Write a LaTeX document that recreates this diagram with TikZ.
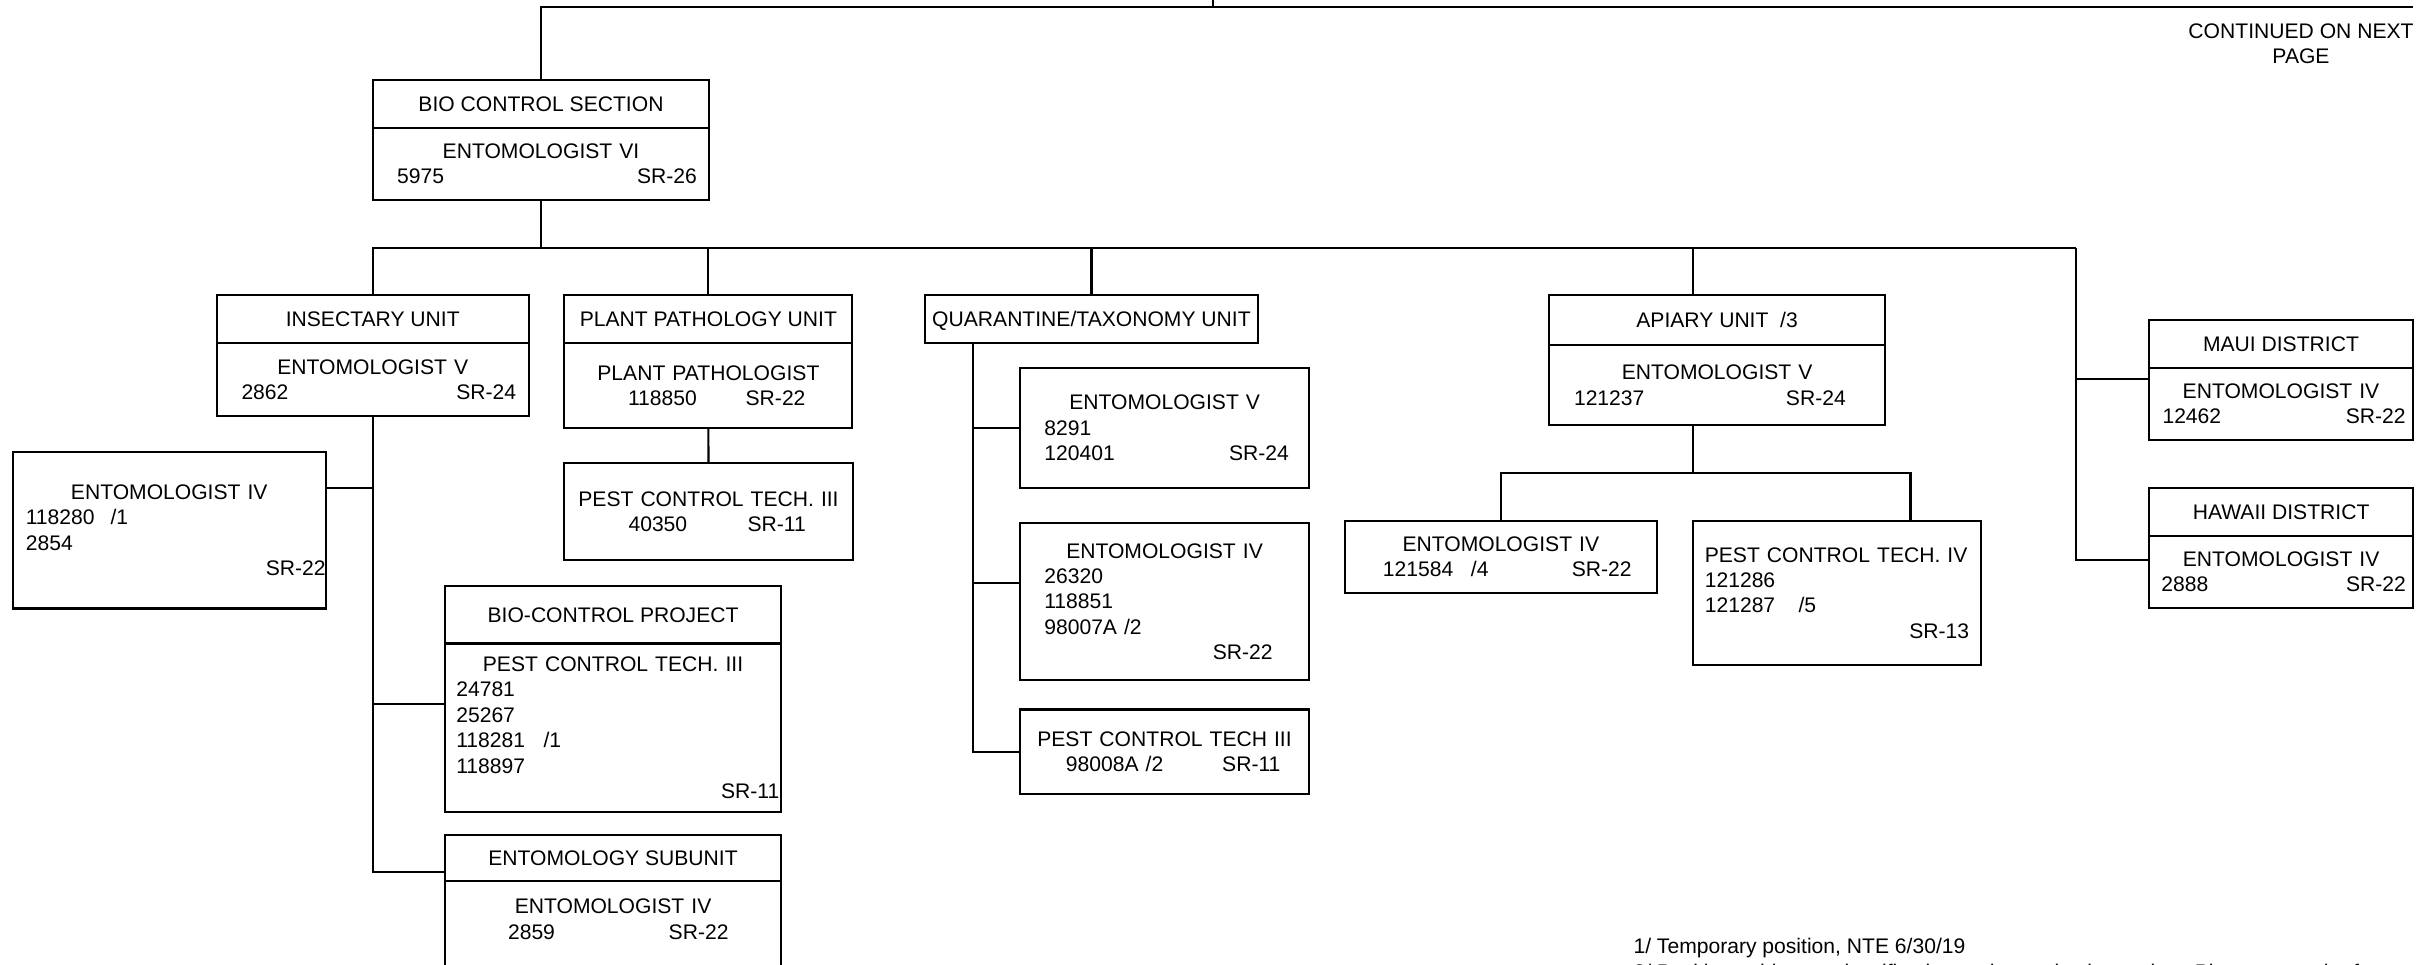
\documentclass[tikz,border=0pt]{standalone}
\usepackage{fontspec}
\setmainfont{Liberation Sans}
\newcommand{\ctr}[1]{\hfill#1\hfill\null}
\tikzset{
  hdr/.style={draw, line width=0.6pt, anchor=north west, inner sep=0pt, outer sep=0pt, align=center, text depth=0pt},
  bdy/.style={draw, line width=0.6pt, anchor=north west, inner sep=0pt, outer sep=0pt, align=left},
  wire/.style={line width=0.6pt},
}
\begin{document}
\begin{tikzpicture}[x=0.01cm, y=-0.01cm, font=\fontsize{6}{7.23}\selectfont]
            \path[use as bounding box, clip] (0,0) rectangle (2430,965);
            \coordinate (topIn) at (1213,0);
            \coordinate (topR) at (2413,7.3);
            \coordinate (busR) at (2076,248);
            \node[anchor=north, inner sep=0pt, align=center] (cont) at (2301,23) {CONTINUED ON NEXT\\PAGE};

            \node[hdr, minimum width=33.56mm, minimum height=4.77mm] (bioH) at (373.1,80) {BIO CONTROL SECTION};
            \node[bdy, minimum width=33.56mm, minimum height=7.23mm, text width=31.16mm] (bioB) at (bioH.south west) {\ctr{ENTOMOLOGIST VI}\\ \hspace*{1.2mm}5975\hfill SR-26};

            \node[hdr, minimum width=31.17mm, minimum height=4.8mm] (insH) at (216.8,295.3) {INSECTARY UNIT};
            \node[bdy, minimum width=31.17mm, minimum height=7.27mm, text width=28.67mm] (insB) at (insH.south west) {\ctr{ENTOMOLOGIST V}\\ \hspace*{1.22mm}2862\hfill SR-24};

            \node[hdr, minimum width=28.78mm, minimum height=4.8mm] (ppH) at (564.4,295.3) {PLANT PATHOLOGY UNIT};
            \node[bdy, minimum width=28.78mm, minimum height=8.44mm, text width=26.38mm] (ppB) at (ppH.south west) {\ctr{PLANT PATHOLOGIST}\\ \hspace*{5.16mm}118850\hspace{4.88mm}SR-22};
            \node[bdy, minimum width=28.88mm, minimum height=9.66mm, text width=26.48mm] (ppPct) at (564,463.4) {\ctr{PEST CONTROL TECH. III}\\ \hspace*{5.25mm}40350\hspace{6.03mm}SR-11};

            \node[hdr, minimum width=33.33mm, minimum height=4.8mm] (quarH) at (924.7,295.3) {QUARANTINE/TAXONOMY UNIT};
            \node[bdy, minimum width=28.83mm, minimum height=12.01mm, text width=24.83mm] (qEntV) at (1020.4,367.7) {\ctr{ENTOMOLOGIST V}\\ \hspace*{0.4mm}8291\\ \hspace*{0.4mm}120401\hfill SR-24};
            \node[bdy, minimum width=28.85mm, minimum height=15.68mm, text width=24.85mm] (qEntIV) at (1020.2,523.2) {\ctr{ENTOMOLOGIST IV}\\ \hspace*{0.41mm}26320\\ \hspace*{0.41mm}118851\\ \hspace*{0.41mm}98007A /2\\ \hfill SR-22\hspace*{1.62mm}\null};
            \node[bdy, minimum width=28.85mm, minimum height=8.48mm, text width=26.45mm] (qPct) at (1020.2,709.5) {\ctr{PEST CONTROL TECH III}\\ \hspace*{3.37mm}98008A /2\hfill SR-11\hspace*{1.64mm}\null};

            \node[hdr, minimum width=33.6mm, minimum height=4.97mm] (apH) at (1549,295.3) {APIARY UNIT\ \ /3};
            \node[bdy, minimum width=33.6mm, minimum height=8mm, text width=31.2mm] (apB) at (apH.south west) {\ctr{ENTOMOLOGIST V}\\ \hspace*{1.3mm}121237\hfill SR-24\hspace*{2.74mm}\null};
            \node[bdy, minimum width=31.2mm, minimum height=7.19mm, text width=28.8mm] (aEnt) at (1344.7,520.8) {\ctr{ENTOMOLOGIST IV}\\ \hspace*{2.62mm}121584\hspace{1.76mm}/4\hfill SR-22\hspace*{1.32mm}\null};
            \node[bdy, minimum width=28.82mm, minimum height=14.42mm, text width=26.42mm] (pctIV) at (1692.8,520.8) {PEST CONTROL TECH. IV\\ 121286\\ 121287\hspace{2.34mm}/5\\ \hfill SR-13};

            \node[hdr, minimum width=26.38mm, minimum height=4.77mm] (mauiH) at (2149,320) {MAUI DISTRICT};
            \node[bdy, minimum width=26.38mm, minimum height=7.23mm, text width=24.92mm] (mauiB) at (mauiH.south west) {\ctr{ENTOMOLOGIST IV}\\ \hspace*{0.62mm}12462\hfill SR-22};
            \node[hdr, minimum width=26.4mm, minimum height=4.79mm] (hawH) at (2149,487.8) {HAWAII DISTRICT};
            \node[bdy, minimum width=26.4mm, minimum height=7.2mm, text width=24.94mm] (hawB) at (hawH.south west) {\ctr{ENTOMOLOGIST IV}\\ \hspace*{0.5mm}2888\hfill SR-22};

            \node[bdy, minimum width=31.25mm, minimum height=15.64mm, text width=31.25mm] (lEnt) at (12.9,452) {\ctr{ENTOMOLOGIST IV}\\ \hspace*{1.29mm}118280\hspace{1.6mm}/1\\ \hspace*{1.29mm}2854\\ \hfill SR-22};
            \node[hdr, minimum width=33.59mm, minimum height=5.75mm] (bcpH) at (445,586) {BIO-CONTROL PROJECT};
            \node[bdy, minimum width=33.59mm, minimum height=16.85mm, text width=33.25mm] (bcpB) at (bcpH.south west) {\ctr{PEST CONTROL TECH. III}\\ \hspace*{0.96mm}24781\\ \hspace*{0.96mm}25267\\ \hspace*{0.96mm}118281\hspace{1.84mm}/1\\ \hspace*{0.96mm}118897\\ \hfill SR-11};
            \node[hdr, minimum width=33.59mm, minimum height=4.58mm] (esH) at (445,835.4) {ENTOMOLOGY SUBUNIT};
            \node[bdy, minimum width=33.59mm, minimum height=10.14mm, text width=33.25mm] (esB) at (esH.south west) {\ctr{ENTOMOLOGIST IV}\\ \hspace*{6.13mm}2859\hspace{11.37mm}SR-22\\ \mbox{}};

            \node[anchor=north west, inner sep=0pt, align=left] (notes) at (1632.8,938) {1/ Temporary position, NTE 6/30/19\\2/ Position subject to classification and organization review. Placement to be f};

            \draw[wire] (bioH.north) |- (topR);
            \draw[wire] (topIn) -- (topIn |- topR);
            \draw[wire] (bioB.south) -- (bioB.south |- busR);
            \draw[wire] (insH.north) |- (busR);
            \draw[wire] (ppH.north) -- (ppH.north |- busR);
            \draw[wire] (quarH.north) -- (quarH.north |- busR);
            \coordinate (apIn) at ([xshift=14.36mm]apH.north west);
            \draw[wire] (apIn) -- (apIn |- busR);
            \coordinate (mauiIn) at ([yshift=-1.16mm]mauiB.north west);
            \coordinate (hawIn) at ([yshift=-2.43mm]hawB.north west);
            \draw[wire] (busR) |- (hawIn);
            \draw[wire] (mauiIn) -- (busR |- mauiIn);

            \draw[wire] (ppB.south) -- (ppPct.north);

            \coordinate (quarDn) at ([xshift=4.79mm]quarH.south west);
            \coordinate (qIVIn) at ([yshift=-6.02mm]qEntIV.north west);
            \draw[wire] (quarDn) |- (qPct.west);
            \draw[wire] (qEntV.west) -- (quarDn |- qEntV.west);
            \draw[wire] (qIVIn) -- (quarDn |- qIVIn);

            \coordinate (apDn) at (apIn |- apB.south);
            \coordinate (apBus) at ([yshift=-4.78mm]apDn);
            \coordinate (pctIn) at ([xshift=21.76mm]pctIV.north west);
            \draw[wire] (apDn) -- (apBus);
            \draw[wire] (aEnt.north) |- (pctIn |- apBus) -- (pctIn);

            \coordinate (lIn) at ([yshift=-3.58mm]lEnt.north east);
            \coordinate (bcpIn) at ([yshift=-6.05mm]bcpB.north west);
            \coordinate (esIn) at ([yshift=-3.65mm]esH.north west);
            \draw[wire] (insB.south) |- (esIn);
            \draw[wire] (lIn) -- (insB.south |- lIn);
            \draw[wire] (bcpIn) -- (insB.south |- bcpIn);
\end{tikzpicture}
\end{document}
